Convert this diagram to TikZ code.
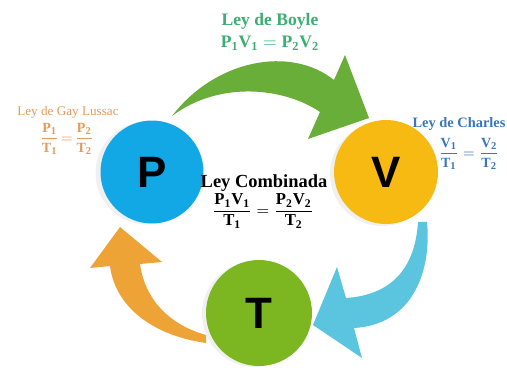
\documentclass[tikz,border=0pt]{standalone}
\usepackage{amsmath}
\usepackage{fontspec}
\setmainfont{Liberation Serif}
\newfontfamily\letterfont{Liberation Sans}
\usetikzlibrary{positioning}

\definecolor{presion}{HTML}{12A8E6}
\definecolor{volumen}{HTML}{F7BA12}
\definecolor{temper}{HTML}{7CB621}
\definecolor{flechaB}{HTML}{6AAE3A}
\definecolor{flechaC}{HTML}{5BC4DF}
\definecolor{flechaG}{HTML}{EDA336}
\definecolor{txtBoyle}{HTML}{3DAE72}
\definecolor{txtGay}{HTML}{E39A5A}
\definecolor{txtCharles}{HTML}{3A76BE}

% 添字つきの太字変数
\newcommand{\magn}[2]{\textbf{#1}_{\mathbf{#2}}}

\begin{document}
\begin{tikzpicture}[x=0.02cm, y=-0.02cm,
    estado/.style={circle, inner sep=0pt, font=\letterfont\bfseries\fontsize{25}{25}\selectfont},
    sombra/.style={circle, inner sep=0pt, fill=gray!12},
    titulo/.style={font=\bfseries}]

    % --- 1. 描画範囲 ---
    \useasboundingbox (0,0) rectangle (507,371);

    % --- 2. 矢印 (塗りつぶし) ---
    % Boyle : P -> V
    \fill[flechaB] (172,116) .. controls (215,60) and (290,45) .. (334,80)
      -- (345,55) -- (369,118) -- (308,139) -- (320,112)
      .. controls (285,88) and (220,80) .. (172,116) -- cycle;
    % Charles : V -> T
    \fill[flechaC] (418,222) .. controls (415,270) and (390,295) .. (346,298)
      -- (337,267) -- (313,325) -- (362,358) -- (354,328)
      .. controls (410,325) and (432,275) .. (427,222) -- cycle;
    % Gay Lussac : T -> P
    \fill[flechaG] (206,343) .. controls (150,335) and (115,305) .. (110,266)
      -- (90,268) -- (120,227) -- (162,262) -- (140,264)
      .. controls (145,300) and (170,325) .. (206,335) -- cycle;

    % --- 3. 状態 P, V, T ---
    \node[sombra, minimum size=2.06cm] at (147,173) {};
    \node[sombra, minimum size=2.08cm] at (382,174) {};
    \node[sombra, minimum size=2.12cm] at (255,314) {};
    \node[estado, fill=presion, minimum size=2.06cm] (P) at (152,172) {P};
    \node[estado, fill=volumen, minimum size=2.08cm] (V) at (386,172) {V};
    \node[estado, fill=temper, minimum size=2.12cm] (T) at (259,313) {T};

    % --- 4. 法則のラベル ---
    % Boyle
    \node[titulo, txtBoyle, font=\bfseries\fontsize{10}{12}\selectfont] (boyle) at (270,21) {Ley de Boyle};
    \node[txtBoyle, font=\fontsize{10}{12}\selectfont] (boyleF) at (270,43)
      {$\magn{P}{1}\magn{V}{1} = \magn{P}{2}\magn{V}{2}$};

    % Gay Lussac
    \node[txtGay, font=\fontsize{7.5}{9}\selectfont] (gay) at (68,112) {Ley de Gay Lussac};
    \node[txtGay, font=\fontsize{8}{10}\selectfont] (gayF) at (67,139)
      {$\dfrac{\magn{P}{1}}{\magn{T}{1}}\!=\!\dfrac{\magn{P}{2}}{\magn{T}{2}}$};

    % Charles
    \node[titulo, txtCharles, font=\bfseries\fontsize{8.2}{10}\selectfont] (charles) at (459,124) {Ley de Charles};
    \node[txtCharles, font=\fontsize{8}{10}\selectfont] (charlesF) at (469,154)
      {$\dfrac{\magn{V}{1}}{\magn{T}{1}} = \dfrac{\magn{V}{2}}{\magn{T}{2}}$};

    % Combinada
    \node[titulo, font=\bfseries\fontsize{10.5}{12}\selectfont] (comb) at (264,183) {Ley Combinada};
    \node[font=\fontsize{9.5}{11}\selectfont] (combF) at (263,211)
      {$\dfrac{\magn{P}{1}\magn{V}{1}}{\magn{T}{1}} = \dfrac{\magn{P}{2}\magn{V}{2}}{\magn{T}{2}}$};

  \end{tikzpicture}
\end{document}
